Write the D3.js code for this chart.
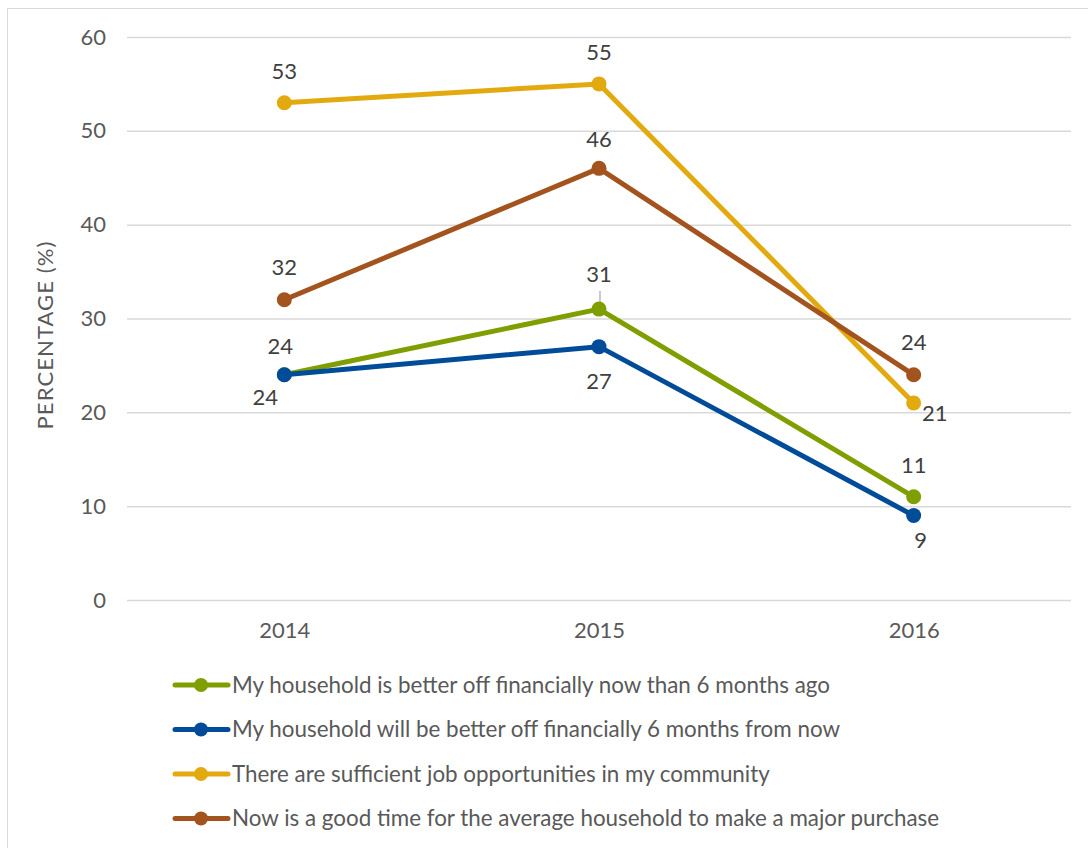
<!DOCTYPE html>
<html>
<head>
<meta charset="utf-8">
<script src="https://cdn.jsdelivr.net/npm/d3@7"></script>
<style>
  html, body { margin: 0; padding: 0; background: #fff; }
  svg { display: block; font-family: Lato, "Open Sans", sans-serif; }
</style>
</head>
<body>
<svg id="chart" width="1088" height="848"></svg>
<script>
// Survey years on the category axis
const years = ["2014", "2015", "2016"];
const yTicks = [0, 10, 20, 30, 40, 50, 60];

// One array per statement (percent agreeing)
const betterNow = [24, 31, 11];
const betterFuture = [24, 27, 9];
const jobOpportunities = [53, 55, 21];
const goodTimeToBuy = [32, 46, 24];

const seriesNames = [
  "My household is better off financially now than 6 months ago",
  "My household will be better off financially 6 months from now",
  "There are sufficient job opportunities in my community",
  "Now is a good time for the average household to make a major purchase"
];
const seriesColors = ["#7F9E00", "#004C99", "#E3AA10", "#A3541E"];
const seriesValues = [betterNow, betterFuture, jobOpportunities, goodTimeToBuy];

// Label placement per point: [dx, dy] offsets from the marker
const labelOffsets = [
  [[-4, -29], [0, -35], [0, -31]],
  [[-19, 22], [0, 35], [7, 25]],
  [[0, -31], [0, -32], [21, 10]],
  [[0, -32], [0, -29], [0, -33]]
];

const svg = d3.select("#chart");
const margin = { left: 127, right: 17, top: 37, bottom: 248 };
const W = 1088, H = 848;
const plotW = W - margin.left - margin.right;
const plotH = H - margin.top - margin.bottom;

// Chart frame
svg.append("rect")
  .attr("x", 7.5).attr("y", 8.5)
  .attr("width", 1100).attr("height", 900)
  .attr("fill", "#fff").attr("stroke", "#D9D9D9").attr("stroke-width", 1);

const x = d3.scalePoint().domain(years).range([0, plotW]).padding(0.5);
const y = d3.scaleLinear().domain([0, 60]).range([plotH, 0]);

const g = svg.append("g").attr("transform", `translate(${margin.left},${margin.top})`);

// Horizontal gridlines with value labels
const yAxis = d3.axisLeft(y).tickValues(yTicks).tickSize(-plotW).tickPadding(21);
const ya = g.append("g").call(yAxis);
ya.select(".domain").remove();
ya.selectAll(".tick line").attr("stroke", "#D9D9D9").attr("stroke-width", 1.5);
ya.selectAll(".tick text")
  .attr("fill", "#595959").attr("font-size", 22).attr("font-family", "Lato, sans-serif");

// Category labels
const xAxis = d3.axisBottom(x).tickSize(0).tickPadding(22);
const xa = g.append("g").attr("transform", `translate(0,${plotH})`).call(xAxis);
xa.select(".domain").remove();
xa.selectAll(".tick text")
  .attr("fill", "#595959").attr("font-size", 22).attr("font-family", "Lato, sans-serif");

// Axis title
svg.append("text")
  .attr("transform", "translate(53,335) rotate(-90)")
  .attr("text-anchor", "middle")
  .attr("fill", "#595959")
  .attr("font-size", 22)
  .attr("letter-spacing", 1.1)
  .text("PERCENTAGE (%)");

const line = d3.line()
  .x((d, i) => x(years[i]))
  .y(d => y(d));

// Leader line connecting the 2015 "31" label to its marker
g.append("line")
  .attr("x1", x("2015") + 1).attr("x2", x("2015") + 1)
  .attr("y1", y(betterNow[1]) - 18).attr("y2", y(betterNow[1]) - 3)
  .attr("stroke", "#A6A6A6").attr("stroke-width", 1.2);

seriesValues.forEach((vals, s) => {
  g.append("path")
    .datum(vals)
    .attr("d", line)
    .attr("fill", "none")
    .attr("stroke", seriesColors[s])
    .attr("stroke-width", 5)
    .attr("stroke-linejoin", "round")
    .attr("stroke-linecap", "round");
  g.selectAll(null)
    .data(vals)
    .enter().append("circle")
    .attr("cx", (d, i) => x(years[i]))
    .attr("cy", d => y(d))
    .attr("r", 7.5)
    .attr("fill", seriesColors[s]);
});

// Value labels
seriesValues.forEach((vals, s) => {
  g.selectAll(null)
    .data(vals)
    .enter().append("text")
    .attr("x", (d, i) => x(years[i]) + labelOffsets[s][i][0])
    .attr("y", (d, i) => y(d) + labelOffsets[s][i][1])
    .attr("dy", "0.35em")
    .attr("text-anchor", "middle")
    .attr("fill", "#404040")
    .attr("font-size", 22)
    .text(d => d);
});

// Legend
const legend = svg.append("g").attr("transform", "translate(173,685)");
seriesNames.forEach((name, s) => {
  const row = legend.append("g").attr("transform", `translate(0,${s * 44.5})`);
  row.append("line")
    .attr("x1", 2).attr("x2", 55).attr("y1", 0).attr("y2", 0)
    .attr("stroke", seriesColors[s]).attr("stroke-width", 5)
    .attr("stroke-linecap", "round");
  row.append("circle").attr("cx", 28).attr("cy", 0).attr("r", 7).attr("fill", seriesColors[s]);
  row.append("text")
    .attr("x", 59).attr("y", 0).attr("dy", "0.35em")
    .attr("fill", "#595959")
    .attr("font-size", 22.4)
    .text(name);
});
</script>
</body>
</html>
